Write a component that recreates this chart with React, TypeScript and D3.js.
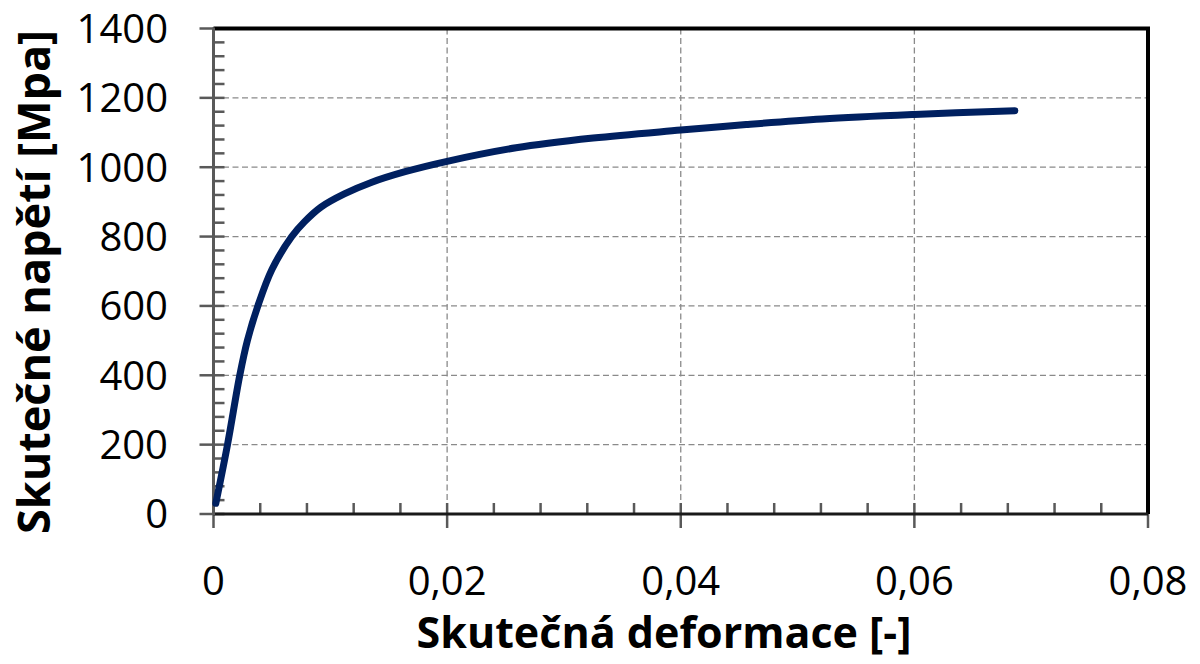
import React, { useRef, useEffect } from "react";
import * as d3 from "d3";

// true strain [-] and true stress [MPa]
const strain = [
  0.0002, 0.0012, 0.00225, 0.0029, 0.0038, 0.005, 0.0067, 0.0078, 0.0092,
  0.0112, 0.0135, 0.0164, 0.02, 0.0259, 0.0325, 0.04, 0.0456, 0.0521, 0.06,
  0.0686,
];
const stress = [
  31, 200, 400, 500, 600, 705, 800, 843, 885, 923, 956, 987, 1017, 1056,
  1084, 1107, 1123, 1139, 1152, 1163,
];
const xTicks = [0, 0.02, 0.04, 0.06, 0.08];
const yTicks = [0, 200, 400, 600, 800, 1000, 1200, 1400];
const xTitle = "Skutečná deformace [-]";
const yTitle = "Skutečné napětí [Mpa]";

const czech = d3.formatLocale({
  decimal: ",",
  thousands: " ",
  grouping: [3],
  currency: ["", " Kč"],
});

function StressStrainChart() {
  const ref = useRef<SVGSVGElement>(null);

  useEffect(() => {
    const width = 1200;
    const height = 664;
    const left = 213.5;
    const right = 1148;
    const top = 28.5;
    const bottom = 514;
    const font = "'Open Sans', sans-serif";

    const svg = d3
      .select(ref.current)
      .attr("width", width)
      .attr("height", height)
      .attr("viewBox", [0, 0, width, height].join(" "));

    svg.selectAll("*").remove();

    const x = d3.scaleLinear().domain([0, 0.08]).range([left, right]);
    const y = d3.scaleLinear().domain([0, 1400]).range([bottom, top]);

    svg.append("rect").attr("width", width).attr("height", height).attr("fill", "#fff");

    // grid
    const grid = svg.append("g").attr("stroke", "#8a8a8a").attr("stroke-width", 1.3).attr("stroke-dasharray", "6,3.5");
    grid
      .selectAll("line.h")
      .data(yTicks.filter((d) => d > 0 && d < 1400))
      .join("line")
      .attr("class", "h")
      .attr("x1", left)
      .attr("x2", right)
      .attr("y1", (d) => y(d))
      .attr("y2", (d) => y(d));
    grid
      .selectAll("line.v")
      .data(xTicks.filter((d) => d > 0 && d < 0.08))
      .join("line")
      .attr("class", "v")
      .attr("x1", (d) => x(d))
      .attr("x2", (d) => x(d))
      .attr("y1", top)
      .attr("y2", bottom);

    // minor ticks (inside)
    const minorX = d3.range(0, 0.0801, 0.004).filter((d, i) => i % 5 !== 0);
    const minorY = d3.range(0, 1401, 40).filter((d, i) => i % 5 !== 0);
    const ticks = svg.append("g").attr("stroke", "#595959").attr("stroke-width", 2.5);
    ticks
      .selectAll("line.mx")
      .data(minorX)
      .join("line")
      .attr("class", "mx")
      .attr("x1", (d) => x(d))
      .attr("x2", (d) => x(d))
      .attr("y1", bottom)
      .attr("y2", bottom - 11);
    ticks
      .selectAll("line.my")
      .data(minorY)
      .join("line")
      .attr("class", "my")
      .attr("x1", left)
      .attr("x2", left + 11)
      .attr("y1", (d) => y(d))
      .attr("y2", (d) => y(d));
    // major ticks (cross)
    ticks
      .selectAll("line.Mx")
      .data(xTicks)
      .join("line")
      .attr("class", "Mx")
      .attr("x1", (d) => x(d))
      .attr("x2", (d) => x(d))
      .attr("y1", bottom - 11)
      .attr("y2", bottom + 14);
    ticks
      .selectAll("line.My")
      .data(yTicks)
      .join("line")
      .attr("class", "My")
      .attr("x1", left - 14)
      .attr("x2", left + 11)
      .attr("y1", (d) => y(d))
      .attr("y2", (d) => y(d));

    // plot border
    svg
      .append("path")
      .attr("d", `M${left},${top}H${right}V${bottom}`)
      .attr("fill", "none")
      .attr("stroke", "#000")
      .attr("stroke-width", 4);
    svg
      .append("line")
      .attr("x1", left)
      .attr("x2", right)
      .attr("y1", bottom)
      .attr("y2", bottom)
      .attr("stroke", "#1a1a1a")
      .attr("stroke-width", 3);
    svg
      .append("line")
      .attr("x1", left)
      .attr("x2", left)
      .attr("y1", top - 1)
      .attr("y2", bottom + 1)
      .attr("stroke", "#595959")
      .attr("stroke-width", 3);

    // curve
    const pts = strain.map((s, i) => [s, stress[i]] as [number, number]);
    const line = d3
      .line<[number, number]>()
      .x((d) => x(d[0]))
      .y((d) => y(d[1]))
      .curve(d3.curveCatmullRom.alpha(0.5));
    svg
      .append("path")
      .datum(pts)
      .attr("fill", "none")
      .attr("stroke", "#002060")
      .attr("stroke-width", 7)
      .attr("stroke-linecap", "round")
      .attr("stroke-linejoin", "round")
      .attr("d", line);

    // tick labels
    const fmtX = czech.format(".2~f");
    svg
      .append("g")
      .style("font", `40px ${font}`)
      .attr("fill", "#000")
      .attr("text-anchor", "middle")
      .selectAll("text")
      .data(xTicks)
      .join("text")
      .attr("x", (d) => x(d))
      .attr("y", 595)
      .text((d) => fmtX(d));
    svg
      .append("g")
      .style("font", `40px ${font}`)
      .attr("fill", "#000")
      .attr("text-anchor", "end")
      .selectAll("text")
      .data(yTicks)
      .join("text")
      .attr("x", 168)
      .attr("y", (d) => y(d))
      .attr("dy", "0.36em")
      .text((d) => String(d));

    // titles
    svg
      .append("text")
      .attr("x", 664)
      .attr("y", 648)
      .attr("text-anchor", "middle")
      .style("font", `bold 43px ${font}`)
      .text(xTitle);
    svg
      .append("text")
      .attr("transform", `translate(50,282) rotate(-90)`)
      .attr("text-anchor", "middle")
      .style("font", `bold 45px ${font}`)
      .text(yTitle);
  }, []);

  return <svg ref={ref} style={{ display: "block" }} />;
}

export default function App() {
  return (
    <div style={{ position: "absolute", left: 0, top: 0, width: 1200, height: 664 }}>
      <StressStrainChart />
    </div>
  );
}
